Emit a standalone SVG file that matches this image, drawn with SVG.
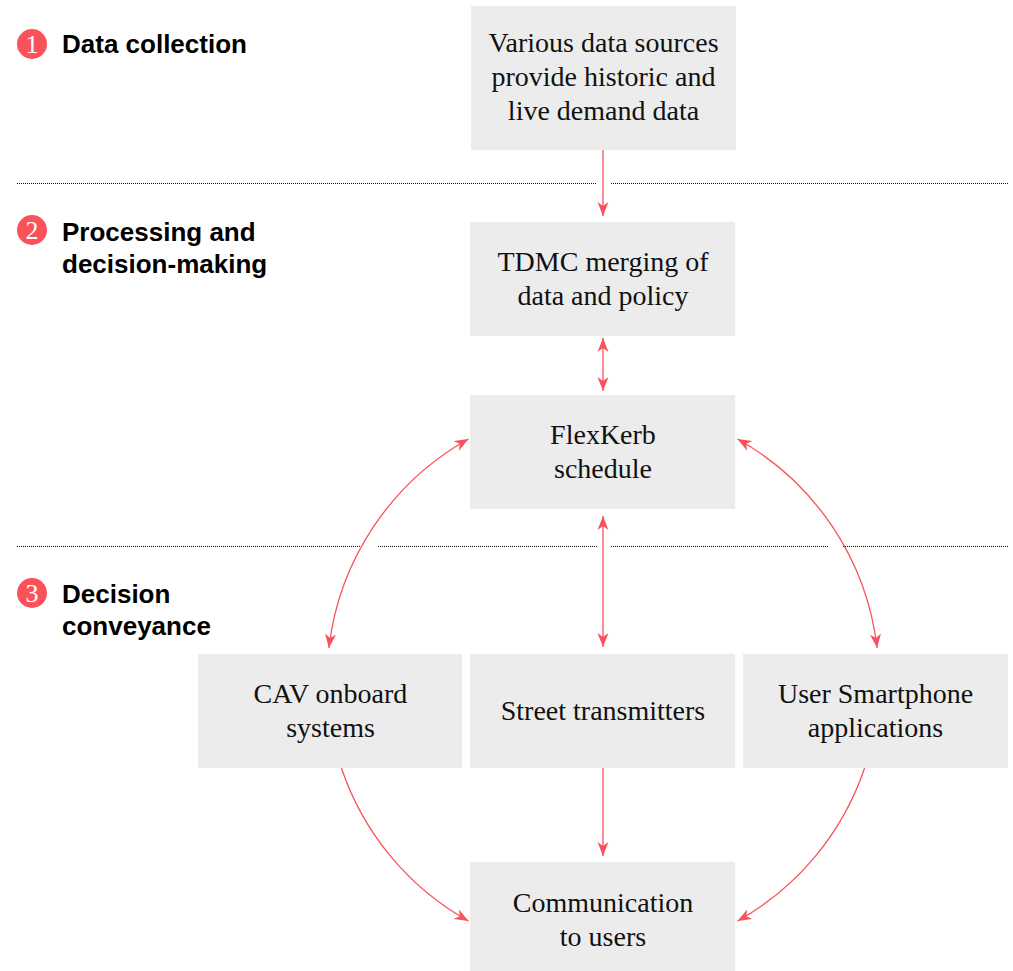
<svg xmlns="http://www.w3.org/2000/svg" width="1013" height="971" viewBox="0 0 1013 971">
<style>
.box{fill:#ECECEC}
.bt{font-family:"Liberation Serif","Times New Roman",serif;font-size:28px;fill:#111;text-anchor:middle}
.lbl{font-family:"Liberation Sans",Arial,sans-serif;font-size:26px;font-weight:bold;fill:#000}
.num{font-family:"Liberation Serif","Times New Roman",serif;font-size:26px;fill:#fff;text-anchor:middle}
.badge{fill:#F9525B}
.sep{stroke:#111;stroke-width:1;stroke-dasharray:1 1;fill:none}
.c{stroke:#F9525B;stroke-width:1.3;fill:none}
.one{marker-end:url(#ah)}
.two{marker-start:url(#ah);marker-end:url(#ah)}
</style>
<defs>
<marker id="ah" markerUnits="userSpaceOnUse" viewBox="-15 -7 16 14" markerWidth="16" markerHeight="14" refX="0" refY="0" orient="auto-start-reverse">
<path d="M0,0 L-14,-5.5 L-10,0 L-14,5.5 Z" fill="#F9525B"/>
</marker>
</defs>
<rect width="1013" height="971" fill="#fff"/>
<g id="separators">
<path class="sep" d="M17,183.5 H597 M611,183.5 H1008"/>
<path class="sep" d="M17,546.5 H362 M378,546.5 H597 M611,546.5 H828 M843,546.5 H1008"/>
</g>
<g id="stage1">
<circle class="badge" cx="32" cy="44" r="15"/>
<text class="num" x="32" y="52.5">1</text>
<text class="lbl" x="62" y="53">Data collection</text>
</g>
<g id="stage2">
<circle class="badge" cx="32" cy="230" r="15"/>
<text class="num" x="32" y="238.5">2</text>
<text class="lbl" x="62" y="241">Processing and</text>
<text class="lbl" x="62" y="273">decision-making</text>
</g>
<g id="stage3">
<circle class="badge" cx="32" cy="593" r="15"/>
<text class="num" x="32" y="601.5">3</text>
<text class="lbl" x="62" y="603">Decision</text>
<text class="lbl" x="62" y="635">conveyance</text>
</g>
<g id="connectors">
<path class="c one" d="M603,150 V216"/>
<path class="c two" d="M603,338 V391"/>
<path class="c two" d="M603,516 V647"/>
<path class="c one" d="M603,768 V856"/>
<path class="c two" d="M468.5,439 A276,276 0 0 0 328.9,648"/>
<path class="c two" d="M737.5,439 A276,276 0 0 1 877.1,648"/>
<path class="c one" d="M341.4,768 A276,276 0 0 0 468.5,921"/>
<path class="c one" d="M864.6,768 A276,276 0 0 1 737.5,921"/>
</g>
<g id="data-sources">
<rect class="box" x="471" y="6" width="265" height="144"/>
<text class="bt" x="603.5" y="52">Various data sources</text>
<text class="bt" x="603.5" y="86">provide historic and</text>
<text class="bt" x="603.5" y="120">live demand data</text>
</g>
<g id="tdmc">
<rect class="box" x="470" y="222" width="265" height="114"/>
<text class="bt" x="603" y="271">TDMC merging of</text>
<text class="bt" x="603" y="305">data and policy</text>
</g>
<g id="flexkerb">
<rect class="box" x="470" y="395" width="265" height="114"/>
<text class="bt" x="603" y="444">FlexKerb</text>
<text class="bt" x="603" y="478">schedule</text>
</g>
<g id="cav">
<rect class="box" x="198" y="654" width="264" height="114"/>
<text class="bt" x="330.5" y="703">CAV onboard</text>
<text class="bt" x="330.5" y="737">systems</text>
</g>
<g id="street">
<rect class="box" x="470" y="654" width="265" height="114"/>
<text class="bt" x="603" y="720">Street transmitters</text>
</g>
<g id="smartphone">
<rect class="box" x="743" y="654" width="265" height="114"/>
<text class="bt" x="875.5" y="703">User Smartphone</text>
<text class="bt" x="875.5" y="737">applications</text>
</g>
<g id="communication">
<rect class="box" x="470" y="862" width="265" height="114"/>
<text class="bt" x="603" y="912">Communication</text>
<text class="bt" x="603" y="946">to users</text>
</g>
</svg>
